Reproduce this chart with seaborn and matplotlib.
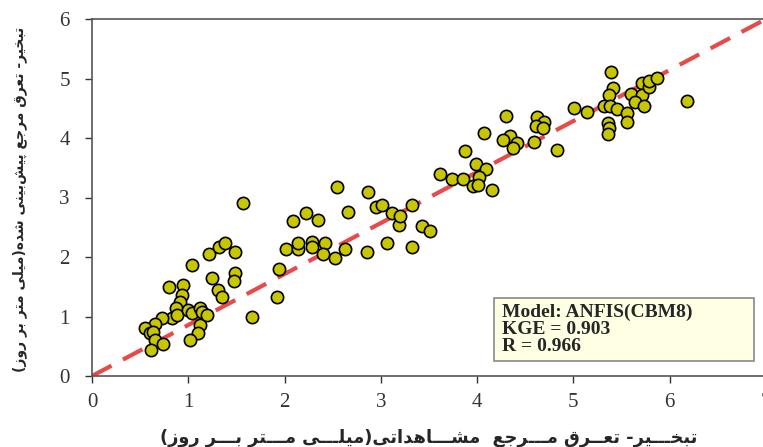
import seaborn as sns
import matplotlib.pyplot as plt
import pandas as pd
from matplotlib.patches import Rectangle

# observed vs predicted ET0 (mm/day)
observed = [1.57, 2.09, 2.22, 2.35, 2.66, 2.95, 3.01, 3.12, 3.19, 2.02,
            2.14, 2.14, 2.28, 2.28, 2.42, 2.40, 2.52, 2.63, 2.86, 3.06,
            1.94, 1.92, 1.66, 0.80, 0.94, 0.93, 0.91, 0.87, 0.83, 0.88,
            0.73, 0.65, 0.55, 0.60, 0.63, 0.65, 0.74, 0.61, 1.00, 1.04,
            1.12, 1.14, 1.12, 1.10, 1.02, 1.19, 1.04, 1.21, 1.25, 1.31,
            1.35, 1.32, 1.38, 1.48, 1.48, 1.47, 5.39, 5.41, 5.37, 5.01,
            5.14, 5.32, 5.38, 5.45, 5.56, 5.56, 5.36, 5.37, 5.36, 5.60,
            5.71, 5.71, 5.64, 5.73, 5.78, 5.79, 5.87, 6.18, 4.30, 4.62,
            4.69, 4.61, 4.68, 4.07, 4.34, 4.27, 4.41, 4.37, 4.59, 4.83,
            3.87, 3.99, 4.09, 3.61, 3.74, 3.85, 4.02, 3.96, 4.01, 4.15,
            3.20, 3.32, 3.43, 3.51, 3.32, 2.54, 2.87]
predicted = [2.91, 2.61, 2.74, 2.62, 2.76, 2.84, 2.87, 2.74, 2.54, 2.13,
             2.13, 2.24, 2.25, 2.17, 2.24, 2.05, 1.98, 2.13, 2.08, 2.24,
             1.80, 1.33, 0.99, 1.50, 1.53, 1.36, 1.24, 1.14, 0.97, 1.03,
             0.97, 0.87, 0.81, 0.72, 0.74, 0.61, 0.54, 0.44, 1.11, 1.06,
             1.14, 1.08, 0.86, 0.72, 0.61, 1.03, 1.87, 2.05, 1.65, 1.45,
             1.33, 2.17, 2.24, 2.08, 1.73, 1.60, 5.11, 4.84, 4.72, 4.50,
             4.44, 4.54, 4.54, 4.49, 4.42, 4.27, 4.25, 4.17, 4.07, 4.74,
             4.92, 4.72, 4.61, 4.54, 4.86, 4.96, 5.01, 4.62, 4.37, 4.35,
             4.27, 4.20, 4.17, 4.08, 4.03, 3.97, 3.92, 3.83, 3.93, 3.80,
             3.78, 3.56, 3.48, 3.39, 3.31, 3.31, 3.35, 3.19, 3.21, 3.13,
             2.69, 2.87, 2.52, 2.44, 2.17, 3.18, 3.09]

x_ticks = [0, 1, 2, 3, 4, 5, 6, 7]
y_ticks = [0, 1, 2, 3, 4, 5, 6]
stats_text = 'Model: ANFIS(CBM8)\nKGE = 0.903\nR = 0.966'
x_label = 'تبخـــیر- تعــرق مـــرجع  مشـــاهداتی(میلـــی مـــتر بـــر روز)'
y_label = 'تبخیر- تعرق مرجع پیش\u200cبینی شده(میلی متر بر روز)'

# matplotlib has no arabic shaping, so pick presentation forms by hand
# (isolated, final, initial, medial)
FORMS = {
    'ا': '\uFE8D\uFE8E', 'د': '\uFEA9\uFEAA', 'ر': '\uFEAD\uFEAE',
    'ز': '\uFEAF\uFEB0', 'و': '\uFEED\uFEEE',
    'ب': '\uFE8F\uFE90\uFE91\uFE92', 'پ': '\uFB56\uFB57\uFB58\uFB59',
    'ت': '\uFE95\uFE96\uFE97\uFE98', 'ج': '\uFE9D\uFE9E\uFE9F\uFEA0',
    'خ': '\uFEA5\uFEA6\uFEA7\uFEA8', 'ش': '\uFEB5\uFEB6\uFEB7\uFEB8',
    'ع': '\uFEC9\uFECA\uFECB\uFECC', 'ق': '\uFED5\uFED6\uFED7\uFED8',
    'ل': '\uFEDD\uFEDE\uFEDF\uFEE0', 'م': '\uFEE1\uFEE2\uFEE3\uFEE4',
    'ن': '\uFEE5\uFEE6\uFEE7\uFEE8', 'ه': '\uFEE9\uFEEA\uFEEB\uFEEC',
    'ی': '\uFBFC\uFBFD\uFBFE\uFBFF',
}
TATWEEL = '\u0640'


def joins_forward(c):
    return c == TATWEEL or (c in FORMS and len(FORMS[c]) == 4)


def shape_rtl(s):
    out = []
    for i, c in enumerate(s):
        if c not in FORMS:
            if c != '\u200c':
                out.append(c)
            continue
        prev = s[i - 1] if i > 0 else ''
        nxt = s[i + 1] if i + 1 < len(s) else ''
        jp = joins_forward(prev)
        jn = len(FORMS[c]) == 4 and (nxt in FORMS or nxt == TATWEEL)
        out.append(FORMS[c][int(jp) + 2 * int(jn)])
    swap = {'(': ')', ')': '('}
    return ''.join(swap.get(c, c) for c in reversed(out))


df = pd.DataFrame({'observed': observed, 'predicted': predicted})

sns.set_style('ticks')
plt.rcParams['font.family'] = ['Liberation Serif', 'DejaVu Sans']

fig = plt.figure(figsize=(7.63, 4.47), dpi=100)
ax = fig.add_axes([92 / 763, 71 / 447, 674 / 763, 357 / 447])

# diagonal of the box, as in the original
ax.plot([0, 1], [0, 1], transform=ax.transAxes, color='#e84a4a', lw=3,
        dashes=(5.3, 3.1), zorder=1)
sns.scatterplot(data=df, x='observed', y='predicted', ax=ax, s=78,
                color='#c8c600', edgecolor='black', linewidth=1.2, zorder=3)

ax.set_xlim(0, 7)
ax.set_ylim(0, 6)
ax.set_xticks(x_ticks)
ax.set_yticks(y_ticks)
ax.tick_params(labelsize=15, length=5, width=1, direction='out', colors='#333333')
ax.tick_params(axis='x', pad=7)
ax.tick_params(axis='y', pad=11)
for side in ['left', 'bottom', 'top', 'right']:
    ax.spines[side].set_color('#555555')
    ax.spines[side].set_linewidth(1.2)

ax.set_xlabel(shape_rtl(x_label), family='DejaVu Sans', fontweight='bold',
              fontsize=12.8)
ax.set_ylabel(shape_rtl(y_label), family='DejaVu Sans', fontweight='bold',
              fontsize=10)
ax.xaxis.set_label_coords(0.5, -0.148)
ax.yaxis.set_label_coords(-0.097, 0.495)

# stats box
ax.add_patch(Rectangle((0.596, 0.042), 0.386, 0.176, transform=ax.transAxes,
                       facecolor='#ffffe3', edgecolor='#888888', lw=1.2, zorder=5))
ax.text(0.608, 0.13, stats_text, transform=ax.transAxes, ha='left', va='center',
        fontsize=14, fontweight='bold', family='Liberation Serif', linespacing=1.0,
        zorder=6)

fig.savefig('out.png', dpi=100)
